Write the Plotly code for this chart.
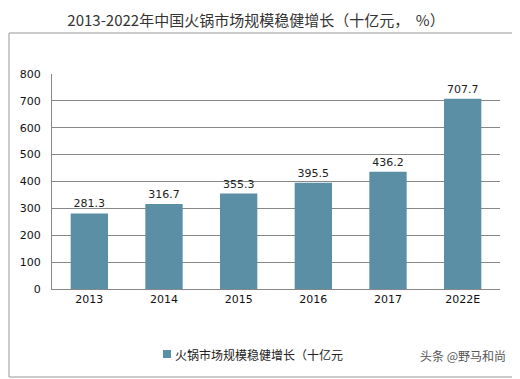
import plotly.graph_objects as go

categories = ["2013", "2014", "2015", "2016", "2017", "2022E"]
values = [281.3, 316.7, 355.3, 395.5, 436.2, 707.7]
value_labels = ["281.3", "316.7", "355.3", "395.5", "436.2", "707.7"]
series_name = "火锅市场规模稳健增长（十亿元"
title_text = "2013-2022年中国火锅市场规模稳健增长（十亿元，  %）"
watermark = "头条 @野马和尚"

# page body has an 8px margin; figure is sized to fit the window
OFF = 8
W, H = 520 - OFF, 379 - OFF
L, R, T, B = 52 - OFF, 20, 74 - OFF, 90
pw, ph = W - L - R, H - T - B
bar_color = "#5b8fa6"

def px_x(p):
    return (p - OFF - L) / pw

def px_y(p):
    return (H - B - (p - OFF)) / ph

font_cjk = "Noto Sans CJK SC, DejaVu Sans, sans-serif"

fig = go.Figure()
fig.add_trace(go.Bar(
    x=categories, y=values, name=series_name, showlegend=False,
    marker=dict(color=bar_color, line=dict(width=0)),
    text=value_labels, textposition="outside",
    textfont=dict(size=11, color="#222", family="DejaVu Sans, sans-serif"),
    cliponaxis=False,
))

fig.update_layout(
    width=W, height=H,
    margin=dict(l=L, r=R, t=T, b=B, autoexpand=False),
    paper_bgcolor="white", plot_bgcolor="white",
    bargap=0.5,
    title=dict(text=title_text, x=px_x(256), xref="paper", xanchor="center",
               y=1 - (21 - OFF) / H, yanchor="middle",
               font=dict(size=15, color="#333", family=font_cjk)),
    xaxis=dict(showline=True, linecolor="#888", linewidth=1, ticks="",
               tickfont=dict(size=11, color="#111", family="DejaVu Sans, sans-serif"),
               showgrid=False, automargin=False),
    yaxis=dict(range=[0, 800], dtick=100, showline=True, linecolor="#888", linewidth=1,
               gridcolor="#888", gridwidth=1, ticks="", ticklabelstandoff=8,
               tickfont=dict(size=11, color="#111", family="DejaVu Sans, sans-serif"),
               zeroline=False, automargin=False),
    shapes=[
        dict(type="rect", xref="paper", yref="paper",
             x0=px_x(9), x1=px_x(515), y0=px_y(377), y1=px_y(33),
             line=dict(color="#999", width=1), fillcolor="rgba(0,0,0,0)", layer="below"),
        dict(type="rect", xref="paper", yref="paper",
             x0=px_x(163), x1=px_x(171), y0=px_y(358), y1=px_y(350),
             line=dict(width=0), fillcolor=bar_color),
    ],
    annotations=[
        dict(text=series_name, xref="paper", yref="paper", x=px_x(173), y=px_y(354),
             xanchor="left", yanchor="middle", showarrow=False,
             font=dict(size=12, color="#222", family=font_cjk)),
        dict(text=watermark, xref="paper", yref="paper", x=px_x(508), y=px_y(355),
             xanchor="right", yanchor="middle", showarrow=False,
             font=dict(size=12, color="#555", family=font_cjk)),
    ],
)

fig.write_html("out.html")
